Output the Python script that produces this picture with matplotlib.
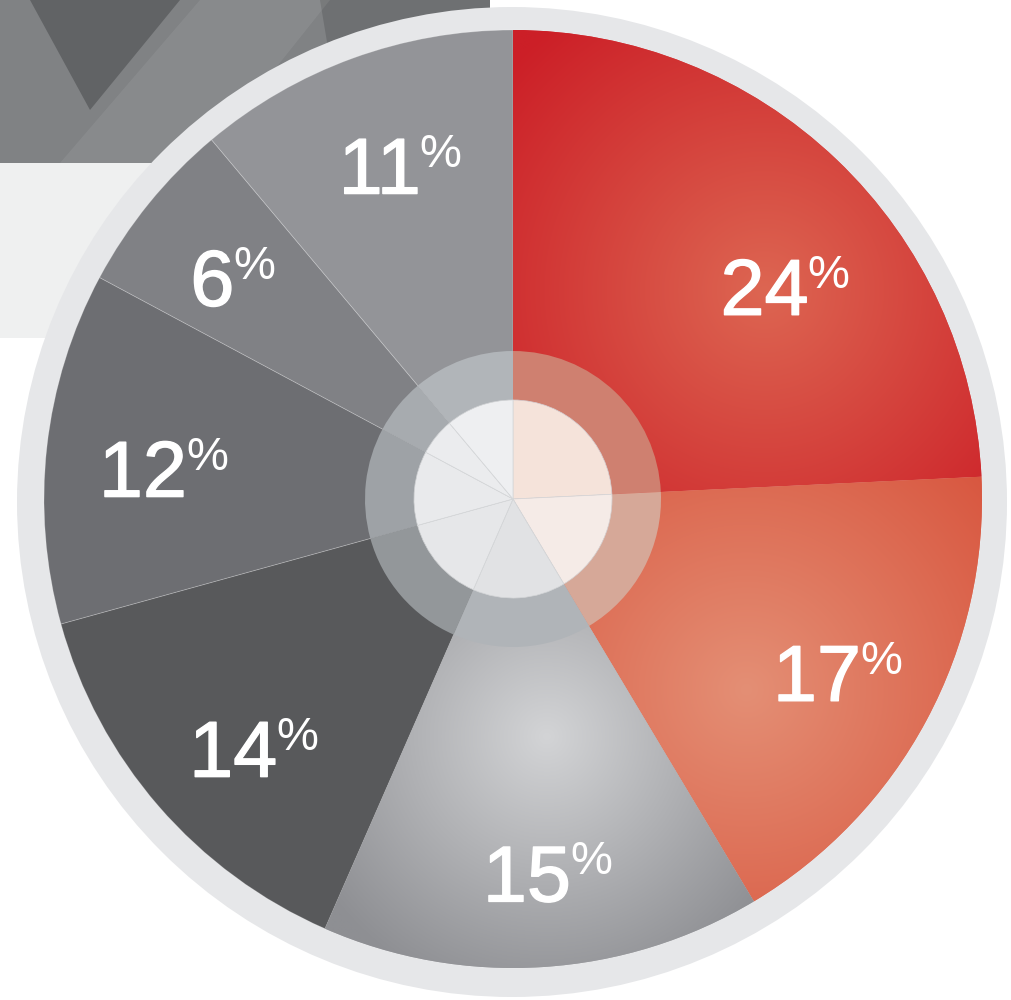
import numpy as np
import matplotlib.pyplot as plt
import matplotlib.patheffects as pe
from matplotlib.colors import to_rgb
from matplotlib.patches import Circle, Polygon, Rectangle

# --- data (clockwise from 12 o'clock) ---
shares = [24, 17, 15, 14, 12, 6, 11]
slice_colors = ['#cd2128', '#d9573f', '#96979b', '#58595b', '#6d6e72', '#808185', '#939498']
# tint of the translucent hub ring / hub disc over each slice
ring_colors = ['#cf8070', '#d6a898', '#b0b4b8', '#93979a', '#9ea2a6', '#a7abaf', '#b1b5b9']
hub_colors = ['#f5e3da', '#f5ebe7', '#e1e2e4', '#e6e7e9', '#e9eaec', '#ebecee', '#eeeff1']

W, H = 1012, 1000
CX, CY = 513, 501          # pie centre in data units (1 unit = 1 px)
R_PIE, R_RIM = 469, 495
R_RING, R_HUB = 148, 99

# radial highlights on the shaded slices: slice index -> (spot px, inner, outer, falloff)
glows = {
    0: ((765, 290), '#dd6652', '#cc1f27', 340),
    1: ((747, 690), '#e48f75', '#d8553e', 330),
    2: ((547, 737), '#d3d4d6', '#8e8f93', 270),
}
# label placement tweaks (degrees, px from centre)
label_nudge = [-8.4, 0, 1.6, 3, 1.4, 0.8, -1.3]
label_r = [345, 368, 376, 360, 351, 357, 352]


def px(x, y):
    return x, H - y


fig = plt.figure(figsize=(W / 100, H / 100), dpi=100)
ax = fig.add_axes([0, 0, 1, 1])

# --- decorative backdrop (top-left) ---
ax.add_patch(Rectangle(px(0, 338), 330, 175, color='#eff0f0', zorder=0.1, lw=0))
ax.add_patch(Rectangle(px(0, 163), 490, 163, color='#808284', zorder=0.2, lw=0))
ax.add_patch(Polygon([px(30, 0), px(180, 0), px(90, 110)], color='#616365', zorder=0.3, lw=0))
ax.add_patch(Polygon([px(320, 0), px(490, 0), px(490, 40), px(330, 60)], color='#6e7072', zorder=0.3, lw=0))
ax.add_patch(Polygon([px(60, 163), px(200, 163), px(330, 0), px(200, 0)], color='white', alpha=0.07,
                     zorder=0.35, lw=0))

# outer rim
ax.add_patch(Circle((CX - 1, CY - 3), R_RIM, color='#e6e7e9', zorder=0.5, lw=0))

# --- main pie ---
wedges, _ = ax.pie(shares, colors=slice_colors, startangle=90, counterclock=False,
                   radius=R_PIE, center=(CX, CY),
                   wedgeprops=dict(edgecolor=(1, 1, 1, 0.25), linewidth=0.6, zorder=1))

for i, (spot, c_in, c_out, fall) in glows.items():
    w = wedges[i]
    sx, sy = px(*spot)
    xs = np.linspace(CX - R_PIE, CX + R_PIE, 500)
    ys = np.linspace(CY - R_PIE, CY + R_PIE, 500)
    gx, gy = np.meshgrid(xs, ys)
    t = np.clip(np.hypot(gx - sx, gy - sy) / fall, 0, 1)[..., None]
    img = np.array(to_rgb(c_in)) * (1 - t) + np.array(to_rgb(c_out)) * t
    im = ax.imshow(img, extent=[xs[0], xs[-1], ys[0], ys[-1]], origin='lower',
                   zorder=1.5, interpolation='bilinear')
    im.set_clip_path(w)

# hub ring and disc
ax.pie(shares, colors=ring_colors, startangle=90, counterclock=False,
       radius=R_RING, center=(CX, CY),
       wedgeprops=dict(width=R_RING - R_HUB, linewidth=0, zorder=2))
ax.pie(shares, colors=hub_colors, startangle=90, counterclock=False,
       radius=R_HUB, center=(CX, CY),
       wedgeprops=dict(edgecolor='#d4d6d8', linewidth=0.5, zorder=3))

# --- labels: number plus small raised % ---
renderer = fig.canvas.get_renderer()
font = 'Liberation Sans'
heavy = [pe.withStroke(linewidth=1.0, foreground='white')]
for w, v, dn, r in zip(wedges, shares, label_nudge, label_r):
    ang = np.deg2rad((w.theta1 + w.theta2) / 2 + dn)
    lx, ly = CX + r * np.cos(ang), CY + r * np.sin(ang)
    num = ax.text(0, 0, str(v), fontsize=57, family=font, color='white',
                  ha='left', va='baseline', zorder=5, path_effects=heavy)
    pct = ax.text(0, 0, '%', fontsize=34, family=font, color='white',
                  ha='left', va='baseline', zorder=5)
    wn = num.get_window_extent(renderer).width
    wp = pct.get_window_extent(renderer).width
    gap = -1
    x0 = lx - (wn + gap + wp) / 2
    base = ly - 28
    num.set_position((x0, base))
    pct.set_position((x0 + wn + gap, base + 27))

ax.set_xlim(0, W)
ax.set_ylim(0, H)
ax.set_aspect('equal')
ax.axis('off')

fig.savefig('out.png', dpi=100, facecolor='white')
